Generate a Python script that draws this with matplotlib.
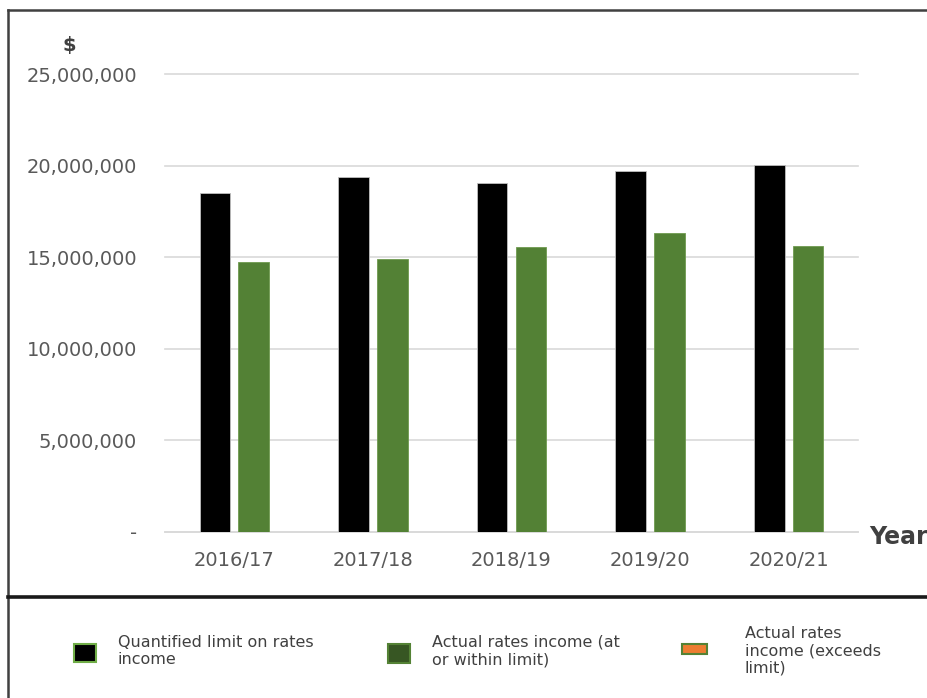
import matplotlib
matplotlib.use("Agg")
import matplotlib.pyplot as plt
from matplotlib.patches import Rectangle
from matplotlib.lines import Line2D
import numpy as np

years = ["2016/17", "2017/18", "2018/19", "2019/20", "2020/21"]
quantified_limit = [18.5e6, 19.36e6, 19.03e6, 19.69e6, 20.02e6]
actual_within = [14.75e6, 14.88e6, 15.54e6, 16.30e6, 15.63e6]
yticks = [0, 5e6, 10e6, 15e6, 20e6, 25e6]
ytick_labels = ["-", "5,000,000", "10,000,000", "15,000,000", "20,000,000", "25,000,000"]
legend_labels = ["Quantified limit on rates\nincome",
                 "Actual rates income (at\nor within limit)",
                 "Actual rates\nincome (exceeds\nlimit)"]
legend_colors = ["#000000", "#375623", "#ED7D31"]

W, H = 928, 698
fig = plt.figure(figsize=(W / 100, H / 100), dpi=100)
plt.rcParams['font.family'] = ['DejaVu Sans']

def fx(px):
    return px / W

def fy(py):
    return 1 - py / H

ax = fig.add_axes([fx(165), fy(532), fx(858) - fx(165), fy(74) - fy(532)])
x = np.arange(len(years))
w = 0.22
ax.bar(x - 0.14, quantified_limit, width=w, color="#000000", edgecolor="#bfbfbf", linewidth=0.6, zorder=3)
ax.bar(x + 0.14, actual_within, width=w, color="#538135", edgecolor="#6f9a4f", linewidth=0.6, zorder=3)
ax.set_xlim(-0.5, len(years) - 0.5)
ax.set_ylim(0, 25e6)
ax.set_yticks(yticks)
ax.set_yticklabels(ytick_labels)
ax.set_xticks(x)
ax.set_xticklabels(years)
ax.tick_params(axis='y', length=0, pad=20, labelsize=14, labelcolor="#595959")
ax.tick_params(axis='x', length=0, pad=14, labelsize=14, labelcolor="#595959")
ax.grid(axis='y', color="#d9d9d9", linewidth=1.2, zorder=0)
for gl in ax.get_ygridlines():
    gl.set_clip_on(False)
for s in ["top", "right", "left"]:
    ax.spines[s].set_visible(False)
ax.spines["bottom"].set_color("#d9d9d9")
ax.spines["bottom"].set_linewidth(1.2)

fig.text(fx(69), fy(46), "$", ha="center", va="center", fontsize=14, fontweight="bold", color="#404040")
fig.text(fx(869), fy(537), "Year", ha="left", va="center", fontsize=17, fontweight="bold", color="#404040")

# borders
fig.add_artist(Line2D([fx(8.5), fx(8.5)], [fy(10), fy(700)], color="#404040", lw=1.8))
fig.add_artist(Line2D([fx(8), fx(930)], [fy(10), fy(10)], color="#404040", lw=1.8))
fig.add_artist(Line2D([fx(8), fx(930)], [fy(596.5), fy(596.5)], color="#1a1a1a", lw=2.6))

# legend
marker_x = [73, 387, 681]
marker_w = [24, 24, 27]
marker_y = [643, 643, 643]
marker_h = [20, 21, 12]
text_x = [118, 432, 745]
edges = ["#70AD47", "#548235", "#548235"]
for mx, mw, my, mh, tx, col, edge, lab in zip(marker_x, marker_w, marker_y, marker_h, text_x,
                                              legend_colors, edges, legend_labels):
    fig.add_artist(Rectangle((fx(mx + 1), fy(my + mh - 1)), (mw - 2) / W, (mh - 2) / H,
                             facecolor=col, edgecolor=edge, lw=1.5))
    fig.text(fx(tx), fy(651), lab, ha="left", va="center", fontsize=11.5,
             color="#404040", linespacing=1.2)

fig.savefig("out.png", dpi=100)
